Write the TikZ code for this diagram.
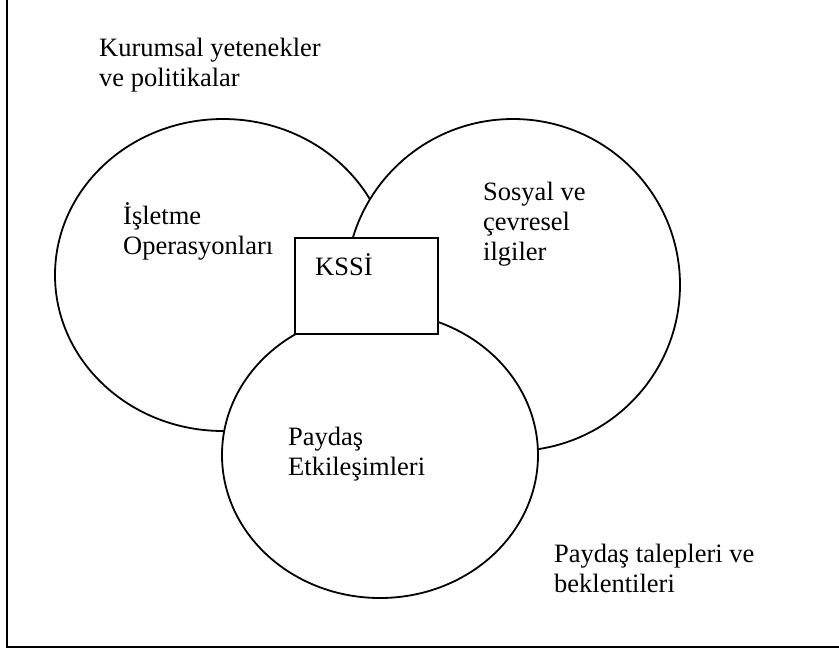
\documentclass[tikz,border=0pt]{standalone}
\usepackage{fontspec}
\setmainfont{Liberation Serif}
\begin{document}
\begin{tikzpicture}[x=1pt,y=-1pt,
  ring/.style={draw=black, line width=1.8pt, fill=white},
  frameline/.style={draw=black, line width=2.6pt},
  boxline/.style={draw=black, line width=2.1pt, fill=white},
  lbl/.style={font=\fontsize{26.5}{30}\selectfont, align=left, anchor=base west, inner sep=0pt}]
\useasboundingbox (0,0) rectangle (839,649);
\fill[white] (0,0) rectangle (839,649);
\draw[frameline] (7,-2) -- (7,647) -- (841,647);
\draw[ring] (223,275) ellipse [x radius=168, y radius=156];
\draw[ring] (513,285) ellipse [x radius=167, y radius=166];
\draw[ring] (380,455) ellipse [x radius=158, y radius=143];
\draw[boxline] (295,238) rectangle (438,334);
% base anchor of a multi-line node sits on its last line
\node[lbl] (kurumsal) at (99,86) {Kurumsal yetenekler\\ve politikalar};
\node[lbl] (isletme) at (123,254) {İşletme\\Operasyonları};
\node[lbl] (sosyal) at (483,260) {Sosyal ve\\çevresel\\ilgiler};
\node[lbl] (kssi) at (315,275) {KSSİ};
\node[lbl] (paydas) at (288,475) {Paydaş\\Etkileşimleri};
\node[lbl] (talepler) at (554,592) {Paydaş talepleri ve\\beklentileri};
\end{tikzpicture}
\end{document}
